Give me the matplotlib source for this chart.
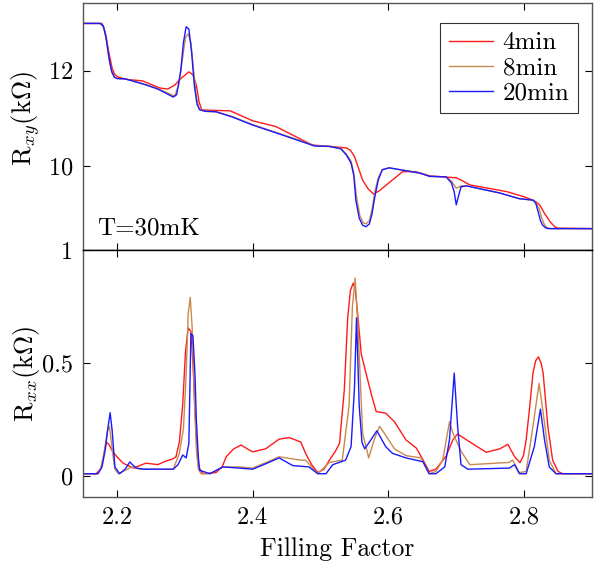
import matplotlib
matplotlib.use("Agg")
import matplotlib.pyplot as plt

plt.rcParams['font.family'] = 'serif'
plt.rcParams['font.serif'] = ['cmr10']
plt.rcParams['mathtext.fontset'] = 'cm'
plt.rcParams['axes.formatter.use_mathtext'] = True
plt.rcParams['axes.unicode_minus'] = False

# ---------------- data: Rxy (kOhm) ----------------
x_rxy_20 = [2.15, 2.175, 2.180, 2.184, 2.188, 2.192, 2.196, 2.200, 2.213, 2.240, 2.260, 2.283, 2.288, 2.294,
            2.298, 2.302, 2.306, 2.310, 2.314, 2.318, 2.322, 2.330, 2.346, 2.370, 2.400, 2.444, 2.491, 2.513,
            2.530, 2.538, 2.545, 2.549, 2.552, 2.557, 2.562, 2.567, 2.572, 2.576, 2.580, 2.585, 2.591, 2.601,
            2.646, 2.661, 2.685, 2.693, 2.697, 2.700, 2.703, 2.707, 2.715, 2.764, 2.793, 2.813, 2.817, 2.820,
            2.824, 2.827, 2.831, 2.835, 2.9]
rxy_20 = [13.0, 13.0, 12.95, 12.7, 12.3, 12.0, 11.87, 11.84, 11.83, 11.72, 11.62, 11.45, 11.5, 12.0,
          12.6, 12.93, 12.88, 12.4, 11.7, 11.3, 11.18, 11.15, 11.14, 11.03, 10.86, 10.65, 10.42, 10.41,
          10.36, 10.23, 10.06, 9.8, 9.28, 8.9, 8.75, 8.72, 8.78, 9.0, 9.35, 9.7, 9.92, 9.96,
          9.85, 9.78, 9.77, 9.64, 9.45, 9.18, 9.35, 9.56, 9.58, 9.43, 9.31, 9.28, 9.22, 9.07,
          8.85, 8.76, 8.7, 8.68, 8.68]

x_rxy_8 = [2.15, 2.176, 2.181, 2.185, 2.189, 2.193, 2.197, 2.201, 2.213, 2.240, 2.260, 2.285, 2.291, 2.297,
           2.301, 2.305, 2.309, 2.313, 2.317, 2.321, 2.330, 2.346, 2.370, 2.400, 2.444, 2.491, 2.513, 2.530,
           2.538, 2.545, 2.549, 2.553, 2.558, 2.563, 2.567, 2.572, 2.576, 2.580, 2.585, 2.591, 2.601, 2.646,
           2.661, 2.685, 2.693, 2.700, 2.707, 2.715, 2.764, 2.793, 2.813, 2.818, 2.822, 2.826, 2.830, 2.834,
           2.840, 2.9]
rxy_8 = [13.0, 13.0, 12.9, 12.6, 12.2, 11.95, 11.86, 11.84, 11.83, 11.72, 11.63, 11.47, 11.7, 12.3,
         12.7, 12.78, 12.6, 12.0, 11.45, 11.2, 11.15, 11.14, 11.04, 10.87, 10.66, 10.43, 10.41, 10.37,
         10.25, 10.1, 9.85, 9.35, 8.95, 8.8, 8.78, 8.85, 9.1, 9.45, 9.75, 9.92, 9.96, 9.85,
         9.78, 9.77, 9.68, 9.53, 9.58, 9.58, 9.43, 9.31, 9.28, 9.22, 9.1, 8.9, 8.76, 8.7,
         8.68, 8.68]

x_rxy_4 = [2.15, 2.178, 2.183, 2.188, 2.193, 2.197, 2.202, 2.215, 2.238, 2.263, 2.275, 2.285, 2.295, 2.306,
           2.312, 2.317, 2.321, 2.325, 2.340, 2.367, 2.400, 2.434, 2.488, 2.515, 2.538, 2.544, 2.550, 2.556,
           2.562, 2.570, 2.578, 2.587, 2.597, 2.610, 2.621, 2.640, 2.661, 2.700, 2.710, 2.720, 2.774, 2.800,
           2.813, 2.818, 2.823, 2.830, 2.838, 2.845, 2.850, 2.9]
rxy_4 = [13.0, 13.0, 12.8, 12.4, 12.05, 11.92, 11.87, 11.82, 11.79, 11.64, 11.62, 11.7, 11.85, 11.98,
         11.92, 11.7, 11.35, 11.18, 11.17, 11.16, 10.95, 10.83, 10.44, 10.41, 10.38, 10.33, 10.2, 9.95,
         9.7, 9.52, 9.41, 9.48, 9.6, 9.75, 9.88, 9.88, 9.79, 9.75, 9.68, 9.60, 9.46, 9.35,
         9.28, 9.24, 9.18, 9.0, 8.83, 8.72, 8.69, 8.68]

# ---------------- data: Rxx (kOhm) ----------------
x_rxx_4 = [2.15, 2.169, 2.176, 2.180, 2.184, 2.188, 2.194, 2.200, 2.209, 2.224, 2.243, 2.260, 2.272, 2.282,
           2.287, 2.292, 2.297, 2.301, 2.305, 2.309, 2.312, 2.315, 2.318, 2.320, 2.327, 2.346, 2.355, 2.361,
           2.372, 2.383, 2.392, 2.400, 2.419, 2.439, 2.454, 2.471, 2.478, 2.487, 2.496, 2.505, 2.513, 2.522,
           2.528, 2.535, 2.540, 2.544, 2.548, 2.551, 2.554, 2.560, 2.567, 2.575, 2.582, 2.596, 2.609, 2.626,
           2.641, 2.651, 2.660, 2.670, 2.685, 2.695, 2.702, 2.715, 2.734, 2.744, 2.764, 2.776, 2.786, 2.794,
           2.799, 2.803, 2.808, 2.813, 2.817, 2.821, 2.825, 2.828, 2.835, 2.842, 2.850, 2.857, 2.9]
rxx_4 = [0.01, 0.01, 0.03, 0.08, 0.15, 0.14, 0.107, 0.085, 0.057, 0.035, 0.057, 0.05, 0.066, 0.075,
         0.085, 0.15, 0.32, 0.55, 0.655, 0.64, 0.5, 0.29, 0.12, 0.04, 0.01, 0.015, 0.04, 0.085,
         0.12, 0.137, 0.12, 0.107, 0.12, 0.163, 0.17, 0.15, 0.10, 0.05, 0.015, 0.03, 0.07, 0.11,
         0.145, 0.38, 0.70, 0.82, 0.853, 0.83, 0.74, 0.54, 0.455, 0.36, 0.285, 0.278, 0.24, 0.159,
         0.124, 0.071, 0.02, 0.03, 0.088, 0.16, 0.186, 0.16, 0.124, 0.105, 0.12, 0.14, 0.085, 0.059,
         0.09, 0.16, 0.3, 0.455, 0.51, 0.527, 0.5, 0.455, 0.218, 0.07, 0.02, 0.01, 0.01]

x_rxx_8 = [2.15, 2.172, 2.177, 2.182, 2.186, 2.189, 2.193, 2.197, 2.202, 2.212, 2.222, 2.235, 2.283, 2.292,
           2.298, 2.302, 2.305, 2.308, 2.311, 2.314, 2.317, 2.320, 2.324, 2.337, 2.356, 2.380, 2.400, 2.420,
           2.439, 2.471, 2.478, 2.496, 2.513, 2.532, 2.542, 2.547, 2.551, 2.555, 2.562, 2.571, 2.579, 2.587,
           2.596, 2.609, 2.626, 2.648, 2.660, 2.670, 2.680, 2.690, 2.695, 2.707, 2.720, 2.778, 2.783, 2.793,
           2.803, 2.813, 2.822, 2.828, 2.837, 2.847, 2.9]
rxx_8 = [0.01, 0.01, 0.04, 0.12, 0.2, 0.22, 0.12, 0.03, 0.01, 0.025, 0.04, 0.03, 0.03, 0.1,
         0.21, 0.45, 0.72, 0.79, 0.65, 0.35, 0.12, 0.03, 0.01, 0.01, 0.04, 0.04, 0.035, 0.06,
         0.085, 0.07, 0.07, 0.01, 0.06, 0.07, 0.31, 0.75, 0.876, 0.67, 0.19, 0.08, 0.16, 0.22,
         0.18, 0.12, 0.09, 0.08, 0.01, 0.02, 0.07, 0.24, 0.19, 0.11, 0.05, 0.06, 0.07, 0.015,
         0.02, 0.22, 0.41, 0.28, 0.07, 0.01, 0.01]

x_rxx_20 = [2.15, 2.172, 2.178, 2.183, 2.187, 2.190, 2.193, 2.197, 2.204, 2.212, 2.219, 2.228, 2.240, 2.283,
            2.290, 2.297, 2.302, 2.306, 2.309, 2.312, 2.315, 2.317, 2.320, 2.322, 2.337, 2.356, 2.380, 2.400,
            2.420, 2.439, 2.459, 2.483, 2.496, 2.508, 2.518, 2.537, 2.545, 2.550, 2.553, 2.557, 2.561, 2.565,
            2.572, 2.583, 2.596, 2.606, 2.626, 2.651, 2.660, 2.670, 2.683, 2.690, 2.697, 2.702, 2.707, 2.717,
            2.778, 2.786, 2.793, 2.803, 2.815, 2.824, 2.830, 2.837, 2.847, 2.9]
rxx_20 = [0.01, 0.01, 0.04, 0.12, 0.22, 0.28, 0.2, 0.04, 0.01, 0.03, 0.062, 0.035, 0.03, 0.03,
          0.05, 0.093, 0.08, 0.145, 0.63, 0.62, 0.45, 0.25, 0.08, 0.025, 0.01, 0.04, 0.035, 0.03,
          0.055, 0.08, 0.046, 0.04, 0.01, 0.01, 0.05, 0.07, 0.13, 0.39, 0.70, 0.31, 0.15, 0.12,
          0.15, 0.20, 0.13, 0.10, 0.08, 0.063, 0.01, 0.01, 0.04, 0.16, 0.455, 0.22, 0.05, 0.03,
          0.035, 0.05, 0.01, 0.01, 0.13, 0.296, 0.16, 0.04, 0.01, 0.01]

labels = ['4min', '8min', '20min']
colors = ['#ff1a1a', '#c88a4e', '#1a1aff']
xticks = [2.2, 2.4, 2.6, 2.8]

fig = plt.figure(figsize=(6.02, 5.65), dpi=100)
W, H = 602, 565
left, right = 83 / W, 592 / W
ax1 = fig.add_axes([left, 1 - 250 / H, right - left, (250 - 3) / H])
ax2 = fig.add_axes([left, 1 - 497 / H, right - left, (497 - 250) / H])

lw = 1.0
ax1.plot(x_rxy_4, rxy_4, color=colors[0], lw=lw, label=labels[0])
ax1.plot(x_rxy_8, rxy_8, color=colors[1], lw=lw, label=labels[1])
ax1.plot(x_rxy_20, rxy_20, color=colors[2], lw=lw, label=labels[2])

ax2.plot(x_rxx_4, rxx_4, color=colors[0], lw=lw)
ax2.plot(x_rxx_8, rxx_8, color=colors[1], lw=lw)
ax2.plot(x_rxx_20, rxx_20, color=colors[2], lw=lw)

for ax in (ax1, ax2):
    ax.set_xlim(2.15, 2.9)
    ax.set_xticks(xticks)
    ax.tick_params(direction='in', top=True, right=True, length=5, width=0.8,
                   labelsize=17.5, pad=7)
    for s in ax.spines.values():
        s.set_linewidth(1.0)
        s.set_color('#555555')

ax1.set_ylim(8.23, 13.43)
ax1.set_yticks([10, 12])
ax1.tick_params(labelbottom=False)
ax1.spines['bottom'].set_color('black')

ax2.set_ylim(-0.093, 1.0)
ax2.set_yticks([0, 0.5, 1])
ax2.set_yticklabels(['0', '0.5', '1'])
ax2.set_xticklabels(['2.2', '2.4', '2.6', '2.8'])
ax2.spines['top'].set_color('black')

ax1.set_ylabel(r'$\mathrm{R}_{xy}(\mathrm{k}\Omega)$', fontsize=19)
ax2.set_ylabel(r'$\mathrm{R}_{xx}(\mathrm{k}\Omega)$', fontsize=19)
ax1.yaxis.set_label_coords(-0.08, 0.53)
ax2.yaxis.set_label_coords(-0.08, 0.5)
ax2.set_xlabel('Filling Factor', fontsize=18.5, labelpad=6)

ax1.text(0.0275, 0.061, 'T=30mK', transform=ax1.transAxes, fontsize=18, ha='left', va='baseline')

leg = ax1.legend(loc='upper right', fontsize=18, frameon=True, fancybox=False,
                 edgecolor='black', borderpad=0.35, handlelength=1.75, handletextpad=0.4,
                 labelspacing=0.1, borderaxespad=0, bbox_to_anchor=(0.9725, 0.919))
leg.get_frame().set_linewidth(0.8)

fig.savefig('out.png', dpi=100)
